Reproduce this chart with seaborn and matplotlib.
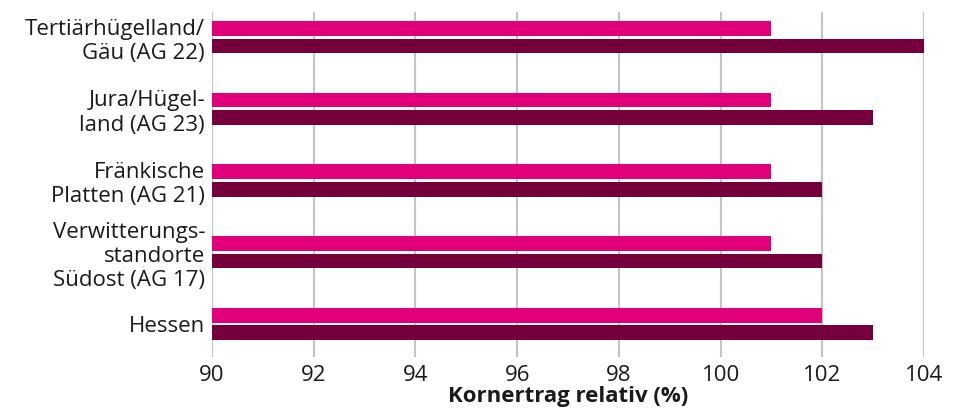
import matplotlib
matplotlib.use("Agg")
import matplotlib.pyplot as plt
import seaborn as sns
import pandas as pd

categories = [
    "Tertiärhügelland/\nGäu (AG 22)",
    "Jura/Hügel-\nland (AG 23)",
    "Fränkische\nPlatten (AG 21)",
    "Verwitterungs-\nstandorte\nSüdost (AG 17)",
    "Hessen",
]
series_names = ["Serie 1", "Serie 2"]
values_1 = [101, 101, 101, 101, 102]
values_2 = [104, 103, 102, 102, 103]
x_ticks = [90, 92, 94, 96, 98, 100, 102, 104]
colors = ["#E2007A", "#76003B"]

df = pd.DataFrame({
    "cat": categories * 2,
    "val": values_1 + values_2,
    "ser": [series_names[0]] * 5 + [series_names[1]] * 5,
})

sns.set_theme(style="white")
plt.rcParams["font.family"] = ["Open Sans", "DejaVu Sans"]

fig = plt.figure(figsize=(9.66, 4.12), dpi=100)
ax = fig.add_axes([212 / 966, 1 - 357 / 412, (924 - 212) / 966, (357 - 12) / 412])

sns.barplot(data=df, y="cat", x="val", hue="ser", orient="h",
            palette=dict(zip(series_names, colors)), saturation=1,
            width=0.49, gap=0.17,
            linewidth=0, legend=False, ax=ax, zorder=3)

ax.set_xlim(90, 104)
ax.set_ylim(4.46, -0.35)
ax.set_xticks(x_ticks)
ax.set_xticklabels([str(t) for t in x_ticks])
ax.grid(axis="x", color="#c4c4c4", linewidth=1.5, zorder=0)
ax.grid(axis="y", visible=False)
for s in ax.spines.values():
    s.set_visible(False)
ax.tick_params(axis="x", length=0, pad=6, labelsize=16, colors="#1a1a1a")
ax.tick_params(axis="y", length=0, pad=5, labelsize=16, colors="#1a1a1a")
for lab in ax.get_yticklabels():
    lab.set_linespacing(1.2)
ax.set_ylabel("")
ax.set_xlabel("Kornertrag relativ (%)", fontsize=16, fontweight="bold",
              color="#1a1a1a", labelpad=0)

fig.savefig("out.png", dpi=100)
